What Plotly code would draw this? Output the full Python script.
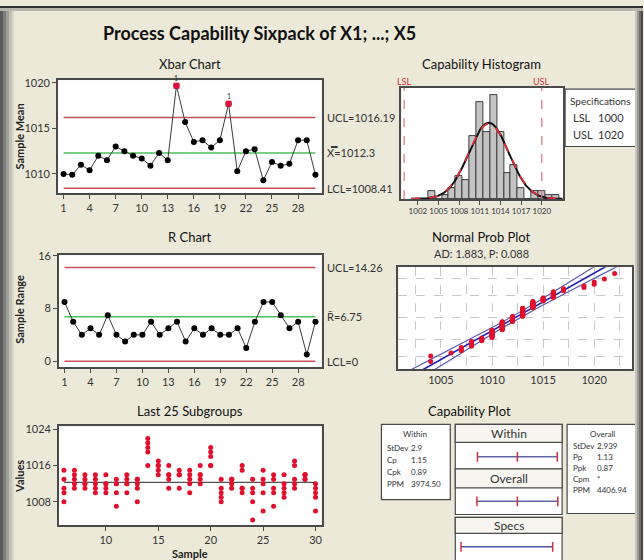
import numpy as np
import plotly.graph_objects as go
from statistics import NormalDist

W, H = 644, 560
FONT = "Liberation Sans Narrow, Lato, sans-serif"

# ---- data ----
samples = list(range(1, 31))
xbar = [1010.0, 1009.9, 1011.0, 1010.4, 1012.0, 1011.5, 1013.0, 1012.5, 1012.0, 1011.7,
        1010.9, 1012.3, 1011.5, 1019.7, 1015.7, 1013.5, 1013.7, 1012.9, 1013.7, 1017.7,
        1010.3, 1012.5, 1012.7, 1009.3, 1011.3, 1010.9, 1011.1, 1013.7, 1013.7, 1009.9]
ranges = [9, 6, 4, 5, 4, 7, 4, 3, 4, 4, 6, 4, 5, 6, 3, 5, 4, 5, 4, 4,
          5, 2, 6, 9, 9, 7, 5, 6, 1, 6]
xbar_ucl, xbar_cl, xbar_lcl = 1016.19, 1012.3, 1008.41
r_ucl, r_cl, r_lcl = 14.26, 6.75, 0

last_samples = list(range(6, 31))
last_values = [
    [1015, 1013, 1011, 1010, 1008], [1015, 1014, 1013, 1012, 1011],
    [1014, 1013, 1012, 1012, 1011], [1014, 1013, 1012, 1011, 1010],
    [1014, 1012, 1012, 1011, 1010], [1013, 1012, 1012, 1010, 1007],
    [1014, 1013, 1012, 1012, 1010], [1013, 1013, 1012, 1011, 1008],
    [1022, 1021, 1020, 1019, 1016], [1017, 1016, 1016, 1015, 1014],
    [1016, 1014, 1014, 1013, 1011], [1015, 1014, 1014, 1014, 1011],
    [1015, 1014, 1013, 1012, 1010], [1016, 1014, 1014, 1013, 1012],
    [1020, 1019, 1018, 1016, 1016], [1013, 1011, 1010, 1009, 1008],
    [1013, 1013, 1013, 1012, 1011], [1016, 1015, 1011, 1011, 1010],
    [1013, 1011, 1010, 1008, 1004], [1015, 1013, 1012, 1010, 1006],
    [1014, 1013, 1011, 1010, 1007], [1014, 1012, 1011, 1010, 1009],
    [1017, 1016, 1013, 1012, 1011], [1014, 1014, 1014, 1013, 1013],
    [1012, 1011, 1010, 1009, 1006],
]

hist_bins = list(range(1004, 1023))
hist_counts = [2, 0, 1, 3, 6, 5, 17, 26, 18, 28, 18, 7, 9, 3, 0, 2, 2, 1, 1]

lsl, usl = 1000, 1020
mean = 1012.3
sd_within, sd_overall = 2.9, 2.939
within_stats = [("StDev", "2.9"), ("Cp", "1.15"), ("Cpk", "0.89"), ("PPM", "3974.50")]
overall_stats = [("StDev", "2.939"), ("Pp", "1.13"), ("Ppk", "0.87"), ("Cpm", "*"), ("PPM", "4406.94")]
ad_text = "AD: 1.883, P: 0.088"
prob_grid_pct = [0.01, 0.10, 0.50, 0.90, 0.99]

# ---- helpers ----
def px(x):
    return x / W

def py(y):
    return 1 - y / H

def dom_x(a, b):
    return [px(a), px(b)]

def dom_y(top, bottom):
    return [py(bottom), py(top)]

LIMIT = "#C8505A"
GREEN = "#4CC05A"
EDGE = "#4A4A4A"
TXT = "#333333"

def ax(**kw):
    base = dict(showline=True, mirror=True, linecolor=EDGE, linewidth=1.5,
                ticks="outside", ticklen=4, tickcolor=EDGE, showgrid=False,
                zeroline=False, tickfont=dict(size=11, color=TXT, family=FONT))
    base.update(kw)
    return base

fig = go.Figure()

# ---- Xbar chart ----
ooc = [v > xbar_ucl or v < xbar_lcl for v in xbar]
for lvl, col in [(xbar_ucl, LIMIT), (xbar_cl, GREEN), (xbar_lcl, LIMIT)]:
    fig.add_trace(go.Scatter(x=[1, 30], y=[lvl, lvl], mode="lines",
                             line=dict(color=col, width=1.5), xaxis="x", yaxis="y"))
fig.add_trace(go.Scatter(x=samples, y=xbar, mode="lines+markers",
                         line=dict(color="#3A3A3A", width=1),
                         marker=dict(color="black", size=6), xaxis="x", yaxis="y"))
fig.add_trace(go.Scatter(x=[s for s, o in zip(samples, ooc) if o],
                         y=[v for v, o in zip(xbar, ooc) if o], mode="markers",
                         marker=dict(color="#E0103C", size=6, symbol="square"),
                         xaxis="x", yaxis="y"))

# ---- R chart ----
for lvl, col in [(r_ucl, LIMIT), (r_cl, GREEN), (r_lcl, LIMIT)]:
    fig.add_trace(go.Scatter(x=[1, 30], y=[lvl, lvl], mode="lines",
                             line=dict(color=col, width=1.5), xaxis="x2", yaxis="y2"))
fig.add_trace(go.Scatter(x=samples, y=ranges, mode="lines+markers",
                         line=dict(color="#3A3A3A", width=1),
                         marker=dict(color="black", size=6), xaxis="x2", yaxis="y2"))

# ---- Last 25 subgroups ----
lx, ly = [], []
for s, vals in zip(last_samples, last_values):
    for v in vals:
        lx.append(s)
        ly.append(v)
fig.add_trace(go.Scatter(x=[last_samples[0], last_samples[-1]], y=[xbar_cl, xbar_cl],
                         mode="lines", line=dict(color="#505050", width=1.2),
                         xaxis="x3", yaxis="y3"))
fig.add_trace(go.Scatter(x=lx, y=ly, mode="markers",
                         marker=dict(color="#E0102C", size=5), xaxis="x3", yaxis="y3"))

# ---- Capability histogram ----
fig.add_trace(go.Bar(x=hist_bins, y=hist_counts, width=1,
                     marker=dict(color="#C4C4C4", line=dict(color="#3C3C3C", width=1)),
                     xaxis="x4", yaxis="y4"))
n_total = sum(hist_counts)
gx = np.linspace(1001, 1023, 240)
for sd, col, dash, wdt in [(sd_within, "#111111", "solid", 2), (sd_overall, "#E0303C", "dash", 1.8)]:
    gy = n_total * np.exp(-0.5 * ((gx - mean) / sd) ** 2) / (sd * np.sqrt(2 * np.pi))
    fig.add_trace(go.Scatter(x=gx, y=gy, mode="lines", line=dict(color=col, width=wdt, dash=dash),
                             xaxis="x4", yaxis="y4"))
for lim in (lsl, usl):
    fig.add_trace(go.Scatter(x=[lim, lim], y=[0, 40], mode="lines",
                             line=dict(color="#D87080", width=1.2, dash="dash"),
                             xaxis="x4", yaxis="y4"))

# ---- Normal probability plot ----
sorted_vals = np.repeat(hist_bins, hist_counts)
nd = NormalDist()
ranks = np.arange(1, len(sorted_vals) + 1)
zs = [nd.inv_cdf((i - 0.3) / (len(sorted_vals) + 0.4)) for i in ranks]
zl = np.linspace(-3.3, 3.3, 60)
fit = mean + zl * sd_overall
half = 1.96 * sd_overall * np.sqrt(1 / len(sorted_vals) + zl ** 2 / (2 * (len(sorted_vals) - 1)))
for xs, col, wdt in [(fit - half, "#5A5AB0", 1.2), (fit + half, "#5A5AB0", 1.2), (fit, "#1A1AB8", 1.6)]:
    fig.add_trace(go.Scatter(x=xs, y=zl, mode="lines", line=dict(color=col, width=wdt),
                             xaxis="x5", yaxis="y5"))
fig.add_trace(go.Scatter(x=sorted_vals, y=zs, mode="markers",
                         marker=dict(color="#E0102C", size=5), xaxis="x5", yaxis="y5"))

# ---- Capability plot intervals ----
rows = [(mean - 3 * sd_within, mean, mean + 3 * sd_within, 455.7),
        (mean - 3 * sd_overall, mean, mean + 3 * sd_overall, 500.7)]
for lo, mid, hi, yy in rows:
    fig.add_trace(go.Scatter(x=[lo, hi], y=[yy, yy], mode="lines",
                             line=dict(color="#6464A8", width=1.5), xaxis="x6", yaxis="y6"))
    fig.add_trace(go.Scatter(x=[lo, mid, hi], y=[yy] * 3, mode="markers",
                             marker=dict(symbol="line-ns", size=7, line=dict(color="#D03040", width=1.5)),
                             xaxis="x6", yaxis="y6"))
fig.add_trace(go.Scatter(x=[lsl, usl], y=[546.7, 546.7], mode="lines",
                         line=dict(color="#5050A8", width=1.5), xaxis="x6", yaxis="y6"))
fig.add_trace(go.Scatter(x=[lsl, usl], y=[546.7, 546.7], mode="markers",
                         marker=dict(symbol="line-ns", size=7, line=dict(color="#D03040", width=1.5)),
                         xaxis="x6", yaxis="y6"))

# ---- layout ----
shapes = []
ann = []

def text(x, y, s, size=11, color=TXT, xa="left", ya="middle", bold=False, angle=0):
    if bold:
        s = "<b>" + s + "</b>"
    ann.append(dict(x=px(x), y=py(y), xref="paper", yref="paper", text=s, showarrow=False,
                    xanchor=xa, yanchor=ya, textangle=angle,
                    font=dict(size=size, color=color, family=FONT)))

def rect(x0, y0, x1, y1, fill="white", line=EDGE, lw=1.2):
    shapes.append(dict(type="rect", xref="paper", yref="paper", x0=px(x0), x1=px(x1),
                       y0=py(y1), y1=py(y0), fillcolor=fill, line=dict(color=line, width=lw),
                       layer="below"))

# window frame
for x0, x1, c in [(0, 3, "#5A5A5A"), (3, 6, "#7C7C7A"), (6, 9, "#9E9E98"), (9, 12, "#C2C0B4"), (12, 14, "#DAD8C8")]:
    shapes.append(dict(type="rect", xref="paper", yref="paper", x0=px(x0), x1=px(x1), y0=0, y1=1,
                       fillcolor=c, line=dict(width=0), layer="above"))
for x0, x1, c in [(636, 638, "#C8C6BA"), (638, 640, "#9A9A96"), (640, 642, "#6E6E6E"), (642, 644, "#4A4A4A")]:
    shapes.append(dict(type="rect", xref="paper", yref="paper", x0=px(x0), x1=px(x1), y0=0, y1=1,
                       fillcolor=c, line=dict(width=0), layer="above"))
shapes.append(dict(type="rect", xref="paper", yref="paper", x0=0, x1=1, y0=py(2), y1=1,
                   fillcolor="#2E2E2E", line=dict(width=0), layer="above"))
shapes.append(dict(type="rect", xref="paper", yref="paper", x0=0, x1=1, y0=py(5), y1=py(2),
                   fillcolor="#B8B6AC", line=dict(width=0), layer="above"))

# titles
text(260, 27, "Process Capability Sixpack of X1; ...; X5", size=18, color="#111111", xa="center", bold=True)
text(190, 59, "Xbar Chart", size=13, color="#111111", xa="center")
text(190, 234, "R Chart", size=13, color="#111111", xa="center")
text(190, 409, "Last 25 Subgroups", size=13, color="#111111", xa="center")
text(482, 59, "Capability Histogram", size=13, color="#111111", xa="center")
text(482, 234, "Normal Prob Plot", size=13, color="#111111", xa="center")
text(482, 250, ad_text, size=11, color=TXT, xa="center")
text(470, 409, "Capability Plot", size=13, color="#111111", xa="center")

# axis titles
text(20, 132, "Sample Mean", size=11, color="#222222", xa="center", bold=True, angle=-90)
text(20, 306, "Sample Range", size=11, color="#222222", xa="center", bold=True, angle=-90)
text(20, 475, "Values", size=11, color="#222222", xa="center", bold=True, angle=-90)
text(190, 553, "Sample", size=11, color="#222222", xa="center", bold=True)

# control limit labels
for lvl, lab in [(xbar_ucl, "UCL=%.2f" % xbar_ucl), (xbar_cl, "X\u033F=%g" % xbar_cl), (xbar_lcl, "LCL=%.2f" % xbar_lcl)]:
    ann.append(dict(x=px(326), y=lvl, xref="paper", yref="y", text=lab, showarrow=False,
                    xanchor="left", yanchor="middle", font=dict(size=11, color=TXT, family=FONT)))
for lvl, lab in [(r_ucl, "UCL=%.2f" % r_ucl), (r_cl, "R\u0304=%.2f" % r_cl), (r_lcl, "LCL=%g" % r_lcl)]:
    ann.append(dict(x=px(326), y=lvl, xref="paper", yref="y2", text=lab, showarrow=False,
                    xanchor="left", yanchor="middle", font=dict(size=11, color=TXT, family=FONT)))
for s, v, o in zip(samples, xbar, ooc):
    if o:
        ann.append(dict(x=s, y=v, xref="x", yref="y", text="1", showarrow=False, yshift=8,
                        font=dict(size=7, color="#333333", family=FONT)))

# LSL / USL labels
for lim, lab in [(lsl, "LSL"), (usl, "USL")]:
    ann.append(dict(x=lim, y=py(76), xref="x4", yref="paper", text=lab, showarrow=False,
                    xanchor="center", yanchor="middle", font=dict(size=9, color="#D03040", family=FONT)))

# specifications box
rect(566, 84, 637, 142)
text(601, 96, "Specifications", size=10, xa="center")
text(572, 113, "LSL", size=11)
text(627, 113, str(lsl), size=11, xa="right")
text(572, 130, "USL", size=11)
text(627, 130, str(usl), size=11, xa="right")

# capability stats boxes
rect(382, 423, 451, 499)
text(416, 433, "Within", size=8, xa="center")
for i, (k, v) in enumerate(within_stats):
    yy = 447 + i * 12
    text(386, yy, k, size=8)
    text(410, yy, v, size=8)
rect(568, 423, 637, 513)
text(603, 433, "Overall", size=8, xa="center")
for i, (k, v) in enumerate(overall_stats):
    yy = 445 + i * 11
    text(572, yy, k, size=8)
    text(596, yy, v, size=8)

# capability plot column
rect(456, 423, 563, 468)
rect(456, 468, 563, 514)
rect(456, 517, 563, 562)
for y0, y1 in [(423, 441), (468, 487), (517, 533)]:
    rect(456, y0, 563, y1, fill="#F6F5F0")
text(509.5, 432, "Within", size=12, xa="center")
text(509.5, 477.5, "Overall", size=12, xa="center")
text(509.5, 525, "Specs", size=12, xa="center")

fig.update_layout(
    width=W, height=H, margin=dict(l=0, r=0, t=0, b=0),
    paper_bgcolor="#ECE9D8", plot_bgcolor="white", showlegend=False,
    bargap=0, shapes=shapes, annotations=ann,
    xaxis=ax(domain=dom_x(58, 322), range=[0.35, 30.7], tickvals=list(range(1, 30, 3)), anchor="y"),
    yaxis=ax(domain=dom_y(75, 189), range=[1007.9, 1020.3], tickvals=[1010, 1015, 1020], anchor="x"),
    xaxis2=ax(domain=dom_x(59, 322), range=[0.35, 30.7], tickvals=list(range(1, 30, 3)), anchor="y2"),
    yaxis2=ax(domain=dom_y(252, 365), range=[-0.9, 16.1], tickvals=[0, 8, 16], anchor="x2"),
    xaxis3=ax(domain=dom_x(59, 322), range=[5.52, 30.57], tickvals=[10, 15, 20, 25, 30], anchor="y3"),
    yaxis3=ax(domain=dom_y(425, 525), range=[1002.8, 1024.65], tickvals=[1008, 1016, 1024], anchor="x3"),
    xaxis4=ax(domain=dom_x(402, 564), range=[999.6, 1023.1], tickvals=list(range(1002, 1021, 3)),
              tickangle=0, tickfont=dict(size=8, color=TXT, family=FONT), anchor="y4"),
    yaxis4=ax(domain=dom_y(83, 195), range=[0, 29.8], showticklabels=False, ticks="", anchor="x4"),
    xaxis5=ax(domain=dom_x(399, 633), range=[1000.84, 1023.7],
              tickvals=[1002.5 + 2.5 * i for i in range(9)],
              ticktext=["" if (1002.5 + 2.5 * i) % 5 else str(int(1002.5 + 2.5 * i)) for i in range(9)],
              showgrid=True, gridcolor="#C8C8C8", griddash="dash", ticks="", anchor="y5"),
    yaxis5=ax(domain=dom_y(264, 367), range=[-3.05, 2.97],
              tickvals=[nd.inv_cdf(p) for p in prob_grid_pct], showticklabels=False, ticks="",
              showgrid=True, gridcolor="#C8C8C8", griddash="dash", anchor="x5"),
    xaxis6=dict(domain=dom_x(456, 563), range=[998.76, 1022.06], visible=False, anchor="y6"),
    yaxis6=dict(domain=dom_y(423, 558), range=[558, 423], visible=False, anchor="x6"),
)

fig.write_html("out.html")
